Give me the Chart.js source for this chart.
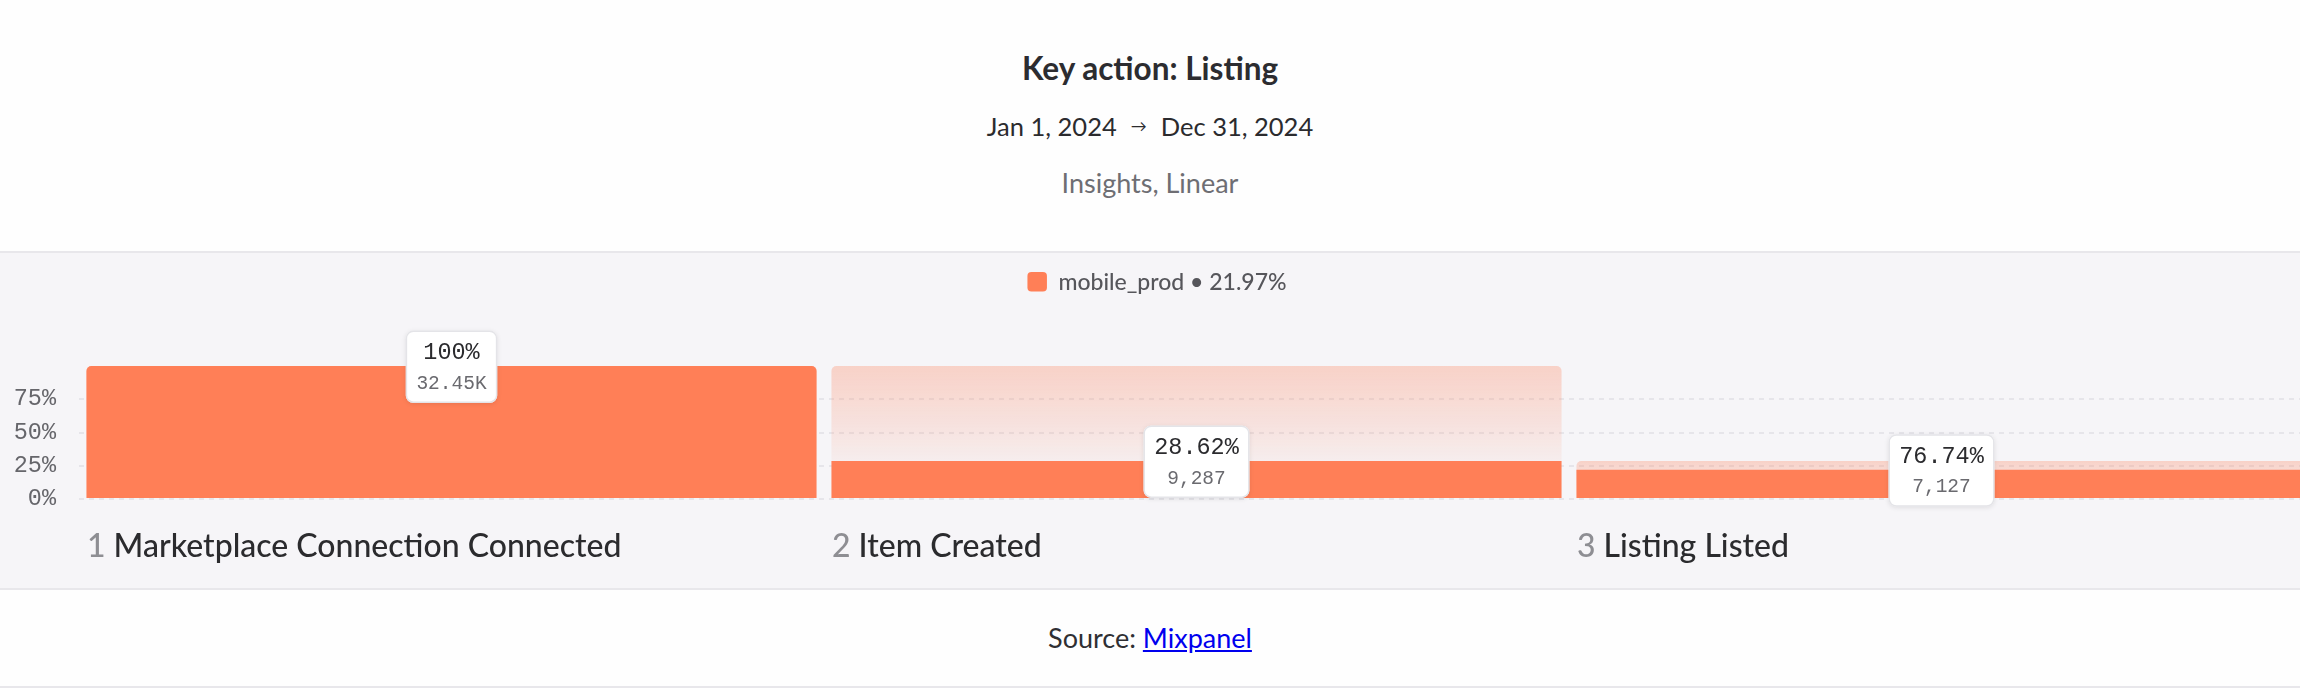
<!DOCTYPE html>
<html>
<head>
<meta charset="utf-8">
<script src="https://cdn.jsdelivr.net/npm/chart.js@4/dist/chart.umd.min.js"></script>
<style>
  html, body { margin:0; padding:0; width:2300px; height:688px; overflow:hidden; background:#fefefe; }
  .hdr { position:absolute; left:0; width:2300px; text-align:center; font-family:"Lato",sans-serif; line-height:1; white-space:nowrap; }
  #title { top:53px; font-size:31.5px; font-weight:700; color:#2c2c30; }
  #dates { top:113.5px; font-size:25.5px; color:#2b2b2e; }
  #dates .arr { display:inline-block; font-size:16px; margin:0 14px 0 14px; position:relative; top:-4px; }
  #sub { top:169px; font-size:27px; color:#6e6e73; }
  #band { position:absolute; left:0; top:251px; width:2300px; height:335px; background:#f6f5f8;
          border-top:2px solid #e8e7eb; border-bottom:2px solid #e8e7eb; }
  #foot { top:623.5px; font-size:27px; color:#2f2f33; }
  #foot a { color:#0000ee; text-decoration:underline; }
  #footline { position:absolute; left:0; top:686px; width:2300px; height:2px; background:#e8e7eb; }
  #c { position:absolute; left:0; top:254px; }
</style>
</head>
<body>
<div id="title" class="hdr">Key action: Listing</div>
<div id="dates" class="hdr">Jan 1, 2024<span class="arr">→</span>Dec 31, 2024</div>
<div id="sub" class="hdr">Insights, Linear</div>
<div id="band"></div>
<canvas id="c" width="2314" height="334"></canvas>
<div id="foot" class="hdr">Source: <a href="#">Mixpanel</a></div>
<div id="footline"></div>
<script>
// ---- data ----
const stepNumbers = ['1', '2', '3'];
const stepNames = ['Marketplace Connection Connected', 'Item Created', 'Listing Listed'];
const overallPct = [100, 28.62, 21.97];          // share of step 1 reaching each step
const priorPct = [100, 100, 28.62];              // share that reached the previous step
const stepConversion = ['100%', '28.62%', '76.74%'];
const stepCounts = ['32.45K', '9,287', '7,127'];
const seriesName = 'mobile_prod';
const overallConversion = '21.97%';
const yTickValues = [0, 25, 50, 75];

const ORANGE = '#ff7f57';

const overlay = {
  id: 'funnelOverlay',
  afterDatasetsDraw(chart) {
    const ctx = chart.ctx;
    const meta = chart.getDatasetMeta(0);
    ctx.save();
    meta.data.forEach((el, i) => {
      const { x, y } = el.getProps(['x', 'y'], true);
      ctx.font = '23.5px "Liberation Mono"';
      const w1 = ctx.measureText(stepConversion[i]).width;
      ctx.font = '19.5px "Liberation Mono"';
      const w2 = ctx.measureText(stepCounts[i]).width;
      const bw = Math.max(w1, w2) + 21;
      const bh = 72;
      const cy = y + 0.7;
      const bx = x - bw / 2, by = cy - bh / 2;
      ctx.save();
      ctx.shadowColor = 'rgba(0,0,0,0.10)';
      ctx.shadowBlur = 5;
      ctx.shadowOffsetY = 1;
      ctx.beginPath();
      ctx.roundRect(bx, by, bw, bh, 7);
      ctx.fillStyle = '#ffffff';
      ctx.fill();
      ctx.restore();
      ctx.beginPath();
      ctx.roundRect(bx + 0.5, by + 0.5, bw - 1, bh - 1, 7);
      ctx.strokeStyle = '#e4e4e8';
      ctx.lineWidth = 1.5;
      ctx.stroke();
      ctx.textAlign = 'center';
      ctx.textBaseline = 'alphabetic';
      ctx.font = '23.5px "Liberation Mono"';
      ctx.fillStyle = '#2b2b2e';
      ctx.fillText(stepConversion[i], x, cy - 7.5);
      ctx.font = '19.5px "Liberation Mono"';
      ctx.fillStyle = '#6a6a6f';
      ctx.fillText(stepCounts[i], x, cy + 22);
    });
    ctx.restore();
  },
  afterDraw(chart) {
    const ctx = chart.ctx;
    const meta = chart.getDatasetMeta(0);
    ctx.save();
    // category labels
    ctx.textAlign = 'left';
    ctx.textBaseline = 'alphabetic';
    meta.data.forEach((el, i) => {
      const { x, width } = el.getProps(['x', 'width'], true);
      const left = x - width / 2 + 0.5;
      const by = chart.scales.y.getPixelForValue(0) + 58;
      ctx.font = '500 32px "Lato"';
      ctx.fillStyle = '#8e8e93';
      ctx.fillText(stepNumbers[i], left, by);
      const off = ctx.measureText(stepNumbers[i] + ' ').width;
      ctx.fillStyle = '#2b2b2e';
      ctx.fillText(stepNames[i], left + off, by);
    });
    // legend
    const label = seriesName + ' \u2022 ' + overallConversion;
    ctx.font = '500 23px "Lato"';
    const tw = ctx.measureText(label).width;
    const sw = 19.5, gap = 11.5;
    const total = sw + gap + tw;
    const lx = chart.width / 2 - total / 2;
    ctx.beginPath();
    ctx.roundRect(lx, 18, sw, sw, 4);
    ctx.fillStyle = chart.data.datasets[0].backgroundColor;
    ctx.fill();
    ctx.fillStyle = '#56565b';
    ctx.fillText(label, lx + sw + gap, 36.3);
    ctx.restore();
  }
};

function ghostFill(context) {
  const chart = context.chart;
  if (!chart.chartArea) return 'rgba(255,127,87,0.2)';
  const ys = chart.scales.y;
  const top = ys.getPixelForValue(priorPct[context.dataIndex]);
  const bottom = ys.getPixelForValue(0);
  const g = chart.ctx.createLinearGradient(0, top, 0, bottom);
  g.addColorStop(0, 'rgba(255,127,87,0.30)');
  g.addColorStop(0.5, 'rgba(255,127,87,0.14)');
  g.addColorStop(0.8, 'rgba(255,127,87,0.03)');
  g.addColorStop(1, 'rgba(255,127,87,0)');
  return g;
}

new Chart(document.getElementById('c'), {
  type: 'bar',
  data: {
    labels: stepNames,
    datasets: [
      {
        label: seriesName,
        data: overallPct,
        backgroundColor: ORANGE,
        borderWidth: 0,
        borderRadius: (c) => (c.dataIndex === 0 ? { topLeft: 5, topRight: 5, bottomLeft: 0, bottomRight: 0 } : 0),
        grouped: false,
        order: 0,
        barPercentage: 0.98,
        categoryPercentage: 1
      },
      {
        label: seriesName + ' (previous step)',
        data: priorPct,
        backgroundColor: ghostFill,
        borderWidth: 0,
        borderRadius: { topLeft: 5, topRight: 5, bottomLeft: 0, bottomRight: 0 },
        grouped: false,
        order: 1,
        barPercentage: 0.98,
        categoryPercentage: 1
      }
    ]
  },
  options: {
    responsive: false,
    devicePixelRatio: 1,
    animation: false,
    layout: { padding: { top: 112, bottom: 89, left: 0, right: 0 } },
    plugins: { legend: { display: false }, tooltip: { enabled: false } },
    scales: {
      x: { display: false },
      y: {
        min: 0,
        max: 100,
        afterBuildTicks: (s) => { s.ticks = yTickValues.map(v => ({ value: v })); },
        afterFit: (s) => { s.width = 79; },
        ticks: {
          callback: (v) => v + '%',
          font: { family: 'Liberation Mono', size: 23.5 },
          color: '#66666b',
          padding: 23
        },
        grid: {
          color: '#e6e5ea',
          lineWidth: 2,
          drawTicks: false
        },
        border: { display: false, dash: [5, 5] }
      }
    }
  },
  plugins: [overlay]
});
</script>
</body>
</html>
